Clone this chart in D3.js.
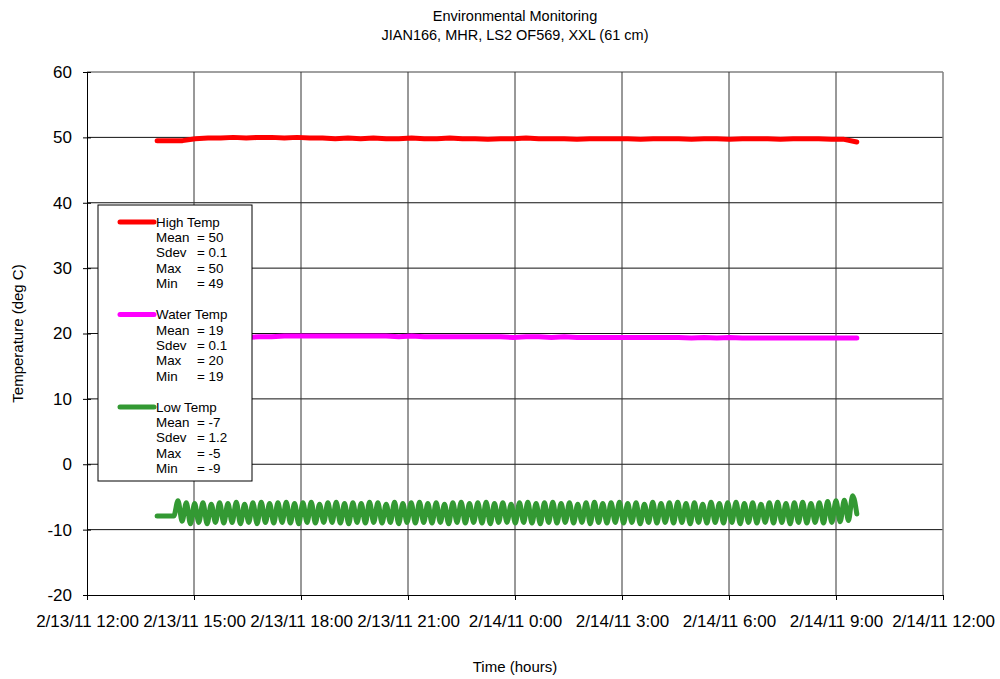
<!DOCTYPE html>
<html>
<head>
<meta charset="utf-8">
<script src="https://cdn.jsdelivr.net/npm/d3@7"></script>
<style>
  body { margin: 0; background: #fff; }
  svg text { font-family: "Liberation Sans", Arial, sans-serif; fill: #000; }
</style>
</head>
<body>
<svg id="chart" width="1000" height="679"></svg>
<script>
// Environmental monitoring chart: three temperature traces over ~20 hours

const titleLines = ["Environmental Monitoring", "JIAN166, MHR, LS2 OF569, XXL (61 cm)"];
const xDomain = ["2011-02-13T12:00", "2011-02-14T12:00"];
const yTicks = [-20, -10, 0, 10, 20, 30, 40, 50, 60];
const recordStart = "2011-02-13T13:58";
const recordEnd = "2011-02-14T09:35";

// readings, evenly spaced between recordStart and recordEnd
const highTemp = [
  49.5, 49.5, 49.5, 49.8, 49.9, 49.9, 50.0, 49.9, 50.0, 50.0,
  49.9, 50.0, 49.9, 49.9, 49.8, 49.9, 49.8, 49.9, 49.8, 49.8,
  49.9, 49.8, 49.8, 49.9, 49.8, 49.8, 49.7, 49.8, 49.8, 49.9,
  49.8, 49.8, 49.8, 49.7, 49.8, 49.8, 49.8, 49.8, 49.7, 49.8,
  49.8, 49.8, 49.7, 49.8, 49.8, 49.7, 49.8, 49.8, 49.8, 49.7,
  49.8, 49.8, 49.8, 49.7, 49.7, 49.3
];
const waterTemp = [
  19.2, 19.2, 19.3, 19.3, 19.3, 19.3, 19.4, 19.4, 19.5, 19.5,
  19.6, 19.6, 19.6, 19.6, 19.6, 19.6, 19.6, 19.6, 19.6, 19.5,
  19.6, 19.5, 19.5, 19.5, 19.5, 19.5, 19.5, 19.5, 19.4, 19.5,
  19.5, 19.4, 19.5, 19.4, 19.4, 19.4, 19.4, 19.4, 19.4, 19.4,
  19.4, 19.4, 19.3, 19.4, 19.3, 19.4, 19.3, 19.3, 19.3, 19.3,
  19.3, 19.3, 19.3, 19.3, 19.3, 19.3
];
const lowTemp = [
  -7.9, -7.9, -7.9, -7.9, -7.9,
  -5.6, -8.7, -5.9, -9.1, -6.0, -8.9, -5.9, -9.1, -6.1, -8.9,
  -5.9, -9.0, -6.0, -8.9, -5.8, -9.1, -6.1, -8.9, -5.9, -9.1,
  -5.8, -8.9, -6.0, -9.0, -5.9, -8.9, -5.8, -9.0, -6.0, -9.1,
  -5.9, -8.9, -5.8, -9.0, -6.1, -8.9, -5.9, -8.9, -5.8, -9.0,
  -6.0, -9.1, -5.9, -8.9, -6.0, -9.0, -5.8, -8.9, -5.9, -9.0,
  -6.1, -8.9, -5.8, -9.1, -6.0, -8.9, -5.9, -9.0, -5.8, -8.9,
  -6.0, -9.0, -5.9, -8.9, -6.1, -9.1, -5.9, -8.9, -5.8, -9.0,
  -6.0, -8.9, -5.9, -9.0, -5.8, -9.1, -6.0, -8.9, -5.9, -8.9,
  -6.1, -9.0, -5.9, -8.9, -5.8, -9.0, -6.0, -9.1, -5.9, -8.9,
  -5.8, -9.0, -6.0, -8.9, -5.9, -9.0, -6.1, -8.9, -5.9, -9.1,
  -5.8, -8.9, -6.0, -9.0, -5.9, -8.9, -5.8, -9.0, -6.0, -8.9,
  -5.9, -9.1, -6.1, -8.9, -5.8, -9.0, -6.0, -8.9, -5.9, -9.0,
  -5.8, -8.9, -6.0, -9.1, -5.9, -8.9, -6.1, -9.0, -5.8, -8.9,
  -6.0, -9.0, -5.9, -8.9, -5.8, -9.1, -6.0, -8.9, -5.9, -9.0,
  -6.1, -8.9, -5.9, -9.0, -5.8, -8.9, -6.0, -9.1, -5.9, -8.9,
  -5.8, -9.0, -6.0, -8.9, -5.9, -9.0, -5.7, -8.9, -5.6, -8.8,
  -5.5, -8.6, -4.8, -7.6
];

// legend entries
const seriesNames = ["High Temp", "Water Temp", "Low Temp"];
const seriesColors = ["#ff0000", "#ff00ff", "#339933"];
const seriesData = [highTemp, waterTemp, lowTemp];
const statLabels = ["Mean", "Sdev", "Max", "Min"];
const statMean = ["50", "19", "-7"];
const statSdev = ["0.1", "0.1", "1.2"];
const statMax = ["50", "20", "-5"];
const statMin = ["49", "19", "-9"];

const margin = { top: 72, right: 57, bottom: 84, left: 87 };
const width = 1000 - margin.left - margin.right;
const height = 679 - margin.top - margin.bottom;

const svg = d3.select("#chart");
const g = svg.append("g").attr("transform", `translate(${margin.left},${margin.top})`);

const parse = d3.timeParse("%Y-%m-%dT%H:%M");
const xScale = d3.scaleTime().domain(xDomain.map(parse)).range([0, width]);
const yScale = d3.scaleLinear().domain([-20, 60]).range([height, 0]);

const xTickValues = d3.timeHour.every(3).range(parse(xDomain[0]), d3.timeMinute.offset(parse(xDomain[1]), 1));
const fmt = d => `${d.getMonth() + 1}/${d.getDate()}/${String(d.getFullYear()).slice(2)} ${d.getHours()}:${String(d.getMinutes()).padStart(2, "0")}`;

// gridlines
g.append("g")
  .selectAll("line")
  .data(yTicks.slice(1))
  .enter().append("line")
  .attr("x1", 0).attr("x2", width)
  .attr("y1", d => yScale(d)).attr("y2", d => yScale(d))
  .attr("stroke", d => d === 60 ? "#808080" : "#111")
  .attr("stroke-width", d => d === 60 ? 1.5 : 1);

g.append("g")
  .selectAll("line")
  .data(xTickValues.slice(1))
  .enter().append("line")
  .attr("x1", d => xScale(d)).attr("x2", d => xScale(d))
  .attr("y1", 0).attr("y2", height)
  .attr("stroke", (d, i, n) => i === n.length - 1 ? "#808080" : "#333")
  .attr("stroke-width", (d, i, n) => i === n.length - 1 ? 1.5 : 1);

// axes
const xAxis = g.append("g")
  .attr("transform", `translate(0,${height})`)
  .call(d3.axisBottom(xScale).tickValues(xTickValues).tickFormat(fmt).tickSizeInner(5).tickSizeOuter(0).tickPadding(15));
xAxis.selectAll("text").style("font-size", "17px");

const yAxis = g.append("g")
  .call(d3.axisLeft(yScale).tickValues(yTicks).tickFormat(d => String(d)).tickSizeInner(4).tickSizeOuter(0).tickPadding(11));
yAxis.selectAll("text").style("font-size", "17px");
yAxis.selectAll(".tick line").attr("x2", 4).attr("x1", -4);

g.selectAll(".domain").attr("stroke", "#000");
g.selectAll(".tick line").attr("stroke", "#000");

// traces
const t0 = parse(recordStart), t1 = parse(recordEnd);
const timeAt = (i, n) => new Date(+t0 + (t1 - t0) * i / (n - 1));

seriesData.forEach((values, s) => {
  const line = d3.line()
    .x((d, i) => xScale(timeAt(i, values.length)))
    .y(d => yScale(d))
    .curve(s === 2 ? d3.curveMonotoneX : d3.curveLinear);
  g.append("path")
    .datum(values)
    .attr("d", line)
    .attr("fill", "none")
    .attr("stroke", seriesColors[s])
    .attr("stroke-width", 5)
    .attr("stroke-linejoin", "round")
    .attr("stroke-linecap", "round");
});

// legend
const legend = svg.append("g").attr("transform", "translate(98,205)");
legend.append("rect")
  .attr("width", 154).attr("height", 276)
  .attr("fill", "#fff").attr("stroke", "#000").attr("stroke-width", 1);

const statValues = [statMean, statSdev, statMax, statMin];
seriesNames.forEach((name, s) => {
  const gy = 17 + s * 92.5;
  const item = legend.append("g").attr("transform", `translate(0,${gy})`);
  item.append("line")
    .attr("x1", 22).attr("x2", 56).attr("y1", 0).attr("y2", 0)
    .attr("stroke", seriesColors[s]).attr("stroke-width", 5).attr("stroke-linecap", "round");
  item.append("text").attr("x", 58).attr("y", 0).attr("dy", "0.35em")
    .style("font-size", "13.4px").text(name);
  statLabels.forEach((lab, r) => {
    const yy = (r + 1) * 15.4;
    item.append("text").attr("x", 58).attr("y", yy).attr("dy", "0.35em")
      .style("font-size", "13.4px").text(lab);
    item.append("text").attr("x", 99).attr("y", yy).attr("dy", "0.35em")
      .style("font-size", "13.4px").text(`= ${statValues[r][s]}`);
  });
});

// titles
svg.append("g").selectAll("text")
  .data(titleLines)
  .enter().append("text")
  .attr("x", 515).attr("y", (d, i) => 21 + i * 19)
  .attr("text-anchor", "middle")
  .style("font-size", "14.5px")
  .text(d => d);

svg.append("text")
  .attr("x", 515).attr("y", 672)
  .attr("text-anchor", "middle")
  .style("font-size", "15px")
  .text("Time (hours)");

svg.append("text")
  .attr("transform", `translate(23,${margin.top + height / 2}) rotate(-90)`)
  .attr("text-anchor", "middle")
  .style("font-size", "15px")
  .text("Temperature (deg C)");
</script>
</body>
</html>
